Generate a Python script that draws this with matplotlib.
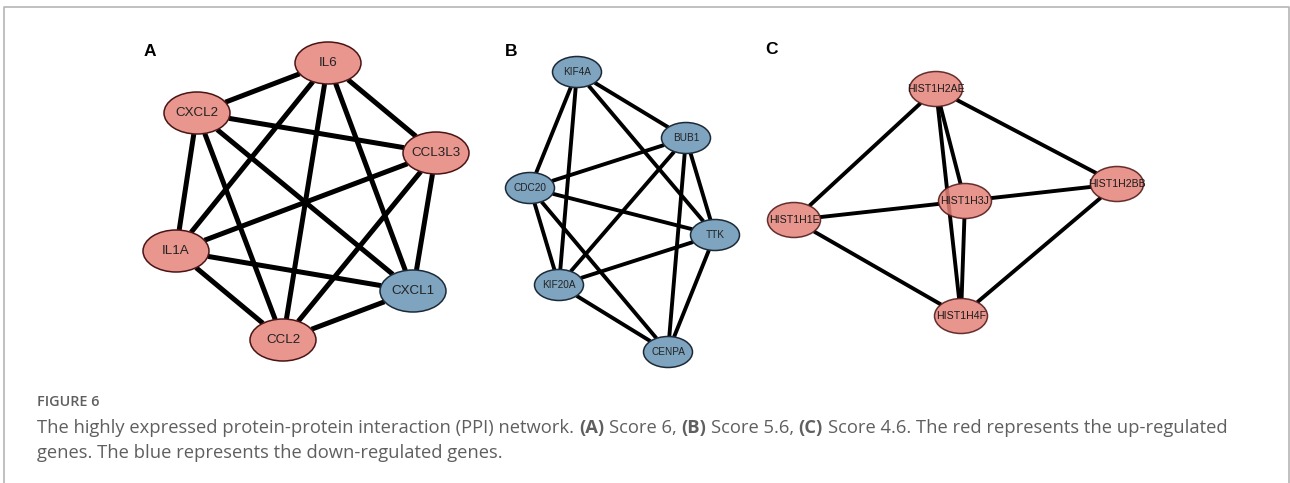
import numpy as np
import matplotlib.pyplot as plt
from matplotlib.patches import Ellipse

RED = "#e9968e"
RED_EDGE = "#4a1414"
BLUE = "#7ea4bf"
BLUE_EDGE = "#1c2a38"

# Panel A: score 6
a_nodes = ["IL6", "CXCL2", "CCL3L3", "IL1A", "CXCL1", "CCL2"]
a_x = [328, 197, 436, 176, 413, 283]
a_y = [63, 113, 153, 251, 291, 340]
a_up = [True, True, True, True, False, True]
a_edges = [("IL6", "CXCL2"), ("IL6", "CCL3L3"), ("IL6", "IL1A"), ("IL6", "CXCL1"),
           ("IL6", "CCL2"), ("CXCL2", "CCL3L3"), ("CXCL2", "IL1A"), ("CXCL2", "CXCL1"),
           ("CXCL2", "CCL2"), ("CCL3L3", "IL1A"), ("CCL3L3", "CXCL1"), ("CCL3L3", "CCL2"),
           ("IL1A", "CXCL1"), ("IL1A", "CCL2"), ("CXCL1", "CCL2")]

# Panel B: score 5.6
b_nodes = ["KIF4A", "BUB1", "CDC20", "TTK", "KIF20A", "CENPA"]
b_x = [577, 686, 530, 715, 559, 668]
b_y = [72, 138, 188, 235, 285, 352]
b_up = [False] * 6
b_edges = [("KIF4A", "CDC20"), ("KIF4A", "KIF20A"), ("KIF4A", "BUB1"), ("KIF4A", "TTK"),
           ("BUB1", "CDC20"), ("BUB1", "KIF20A"), ("BUB1", "CENPA"), ("BUB1", "TTK"),
           ("CDC20", "TTK"), ("CDC20", "KIF20A"), ("CDC20", "CENPA"),
           ("TTK", "KIF20A"), ("TTK", "CENPA"), ("KIF20A", "CENPA")]

# Panel C: score 4.6
c_nodes = ["HIST1H2AE", "HIST1H2BB", "HIST1H3J", "HIST1H1E", "HIST1H4F"]
c_x = [936, 1117, 965, 794, 961]
c_y = [89, 184, 201, 220, 316]
c_up = [True] * 5
c_edges = [("HIST1H2AE", "HIST1H1E"), ("HIST1H2AE", "HIST1H2BB"), ("HIST1H2AE", "HIST1H3J"),
           ("HIST1H2AE", "HIST1H4F"), ("HIST1H1E", "HIST1H3J"), ("HIST1H1E", "HIST1H4F"),
           ("HIST1H3J", "HIST1H2BB"), ("HIST1H3J", "HIST1H4F"), ("HIST1H2BB", "HIST1H4F")]

fig = plt.figure(figsize=(12.9, 4.83), dpi=100)
ax = fig.add_axes([0, 0, 1, 1])
ax.set_xlim(0, 1290)
ax.set_ylim(483, 0)
ax.axis("off")


def clip(p, q, w, h):
    # point where the segment p->q leaves the ellipse around p
    d = np.array(q, float) - np.array(p, float)
    t = 1 / np.sqrt((d[0] / (w / 2)) ** 2 + (d[1] / (h / 2)) ** 2)
    return np.array(p) + t * d


def network(names, xs, ys, up, edges, w, h, lw, fs, color,
            red=RED, alpha=1.0):
    pos = {n: (x, y) for n, x, y in zip(names, xs, ys)}
    for s, t in edges:
        p = clip(pos[s], pos[t], w, h)
        q = clip(pos[t], pos[s], w, h)
        ax.plot([p[0], q[0]], [p[1], q[1]], color="black", lw=lw,
                solid_capstyle="butt", zorder=1)
    for n, u in zip(names, up):
        ax.add_patch(Ellipse(pos[n], w, h, facecolor=red if u else BLUE,
                             edgecolor=RED_EDGE if u else BLUE_EDGE,
                             lw=1.1, alpha=alpha, zorder=2))
        ax.text(*pos[n], n, ha="center", va="center", fontsize=fs,
                family="Liberation Sans", color=color, zorder=3)


network(a_nodes, a_x, a_y, a_up, a_edges, 66, 42, 3.6, 9.6, "#222222")
network(b_nodes, b_x, b_y, b_up, b_edges, 49, 31, 2.8, 7.2, "#222222")
# semi-transparent nodes in C, darker fill so it reads the same on white
network(c_nodes, c_x, c_y, c_up, c_edges, 53, 35, 2.8, 7.6, "#1a1a1a",
        red="#e5837a", alpha=0.85)

for lab, x, y in [("A", 150, 51), ("B", 511, 51), ("C", 772, 50)]:
    ax.text(x, y, lab, ha="center", va="center", fontsize=12.5,
            fontweight="bold", family="Liberation Sans")

# frame around the figure
ax.plot([4, 4, 1289, 1289], [483, 7, 7, 483], color="#b5b5b5", lw=1.2,
        clip_on=False)

# caption
cap = dict(family="Open Sans", color="#5f5f5f", va="baseline")
ax.text(37, 406, "FIGURE 6", fontsize=10.4, fontweight="semibold", **cap)

fig.canvas.draw()
r = fig.canvas.get_renderer()
fs = 13.2


def width(s, bold=False):
    t = ax.text(0, 0, s, fontsize=fs, fontweight="bold" if bold else "normal",
                family="Open Sans")
    w = t.get_window_extent(renderer=r).width
    t.remove()
    return w


space = width("a a") - width("aa")
pieces = [("The highly expressed protein-protein interaction (PPI) network.", False),
          ("(A)", True), ("Score 6,", False), ("(B)", True), ("Score 5.6,", False),
          ("(C)", True), ("Score 4.6. The red represents the up-regulated", False)]
x = 37
for s, b in pieces:
    ax.text(x, 433, s, fontsize=fs, fontweight="bold" if b else "normal", **cap)
    x += width(s, b) + space
ax.text(37, 458, "genes. The blue represents the down-regulated genes.",
        fontsize=fs, **cap)

fig.savefig("out.png", dpi=100)
